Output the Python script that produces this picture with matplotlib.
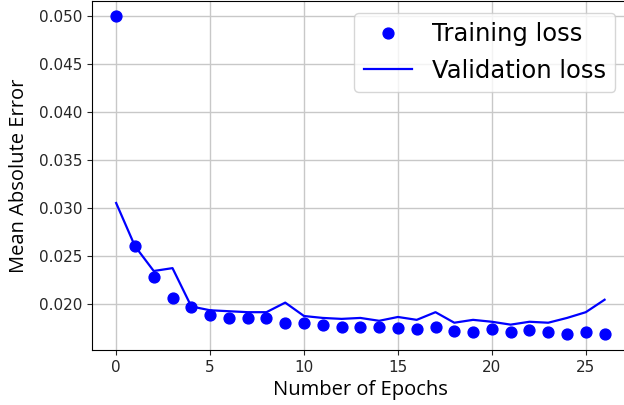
import numpy as np
import matplotlib.pyplot as plt

# per-epoch mean absolute error
epochs = np.arange(27)
train_mae = [0.0500, 0.0260, 0.0228, 0.0206, 0.0196, 0.0188, 0.0185, 0.0185,
             0.0185, 0.0180, 0.0180, 0.0178, 0.0176, 0.0176, 0.0176, 0.0174,
             0.0173, 0.0176, 0.0171, 0.0170, 0.0173, 0.0170, 0.0172, 0.0170,
             0.0168, 0.0170, 0.0168]
val_mae = [0.0305, 0.0260, 0.0234, 0.0237, 0.0197, 0.0193, 0.0192, 0.0191,
           0.0191, 0.0201, 0.0187, 0.0185, 0.0184, 0.0185, 0.0182, 0.0186,
           0.0183, 0.0191, 0.0180, 0.0183, 0.0181, 0.0178, 0.0181, 0.0180,
           0.0185, 0.0191, 0.0204]

fig = plt.figure(figsize=(6.24, 4.05), dpi=100)
# axes runs a little past the right edge of the canvas
ax = fig.add_axes([0.147, 0.136, 0.861, 0.861])
ax.spines['right'].set_visible(False)

ax.plot(epochs, train_mae, 'bo', markersize=7.8, label='Training loss')
ax.plot(epochs, val_mae, 'b', linewidth=1.6, label='Validation loss')

ax.set_ylim(0.01516, 0.05157)
ax.set_xlim(-1.3, 27.3)
ax.set_yticks([0.020, 0.025, 0.030, 0.035, 0.040, 0.045, 0.050])
ax.yaxis.set_major_formatter(plt.FormatStrFormatter('%.3f'))
ax.tick_params(labelsize=11, colors='#262626')

ax.set_xlabel('Number of Epochs', fontsize=14.5, family='Open Sans', labelpad=4)
ax.set_ylabel('Mean Absolute Error', fontsize=14.5, family='Open Sans', labelpad=7)
ax.grid(True, color='#c8c8c8', linewidth=1)
ax.legend(loc='upper right', fontsize=17.5, borderaxespad=0.6,
          bbox_to_anchor=(1.002, 1.009))

fig.savefig('out.png', dpi=100)
